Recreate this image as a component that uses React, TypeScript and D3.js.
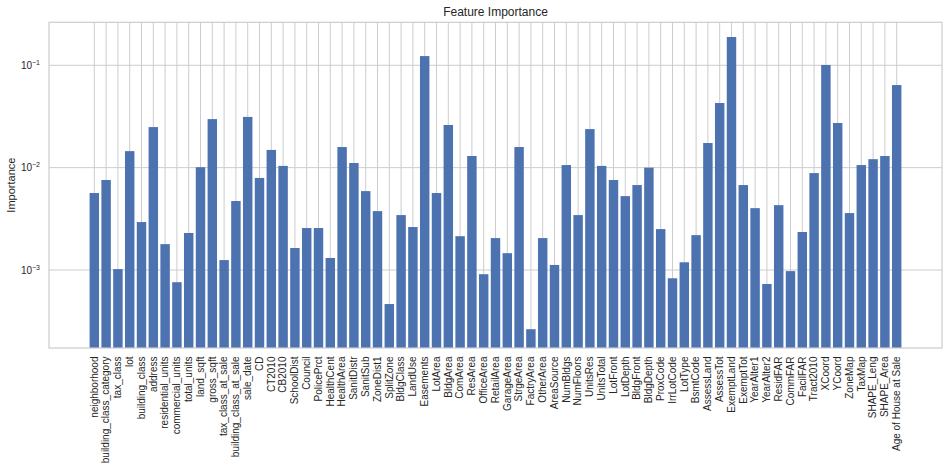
import React from "react";
import * as d3 from "d3";

const features: string[] = [
  "neighborhood", "building_class_category", "tax_class", "lot", "building_class", "address",
  "residential_units", "commercial_units", "total_units", "land_sqft", "gross_sqft",
  "tax_class_at_sale", "building_class_at_sale", "sale_date", "CD", "CT2010", "CB2010",
  "SchoolDist", "Council", "PolicePrct", "HealthCent", "HealthArea", "SanitDistr", "SanitSub",
  "ZoneDist1", "SplitZone", "BldgClass", "LandUse", "Easements", "LotArea", "BldgArea",
  "ComArea", "ResArea", "OfficeArea", "RetailArea", "GarageArea", "StrgeArea", "FactryArea",
  "OtherArea", "AreaSource", "NumBldgs", "NumFloors", "UnitsRes", "UnitsTotal", "LotFront",
  "LotDepth", "BldgFront", "BldgDepth", "ProxCode", "IrrLotCode", "LotType", "BsmtCode",
  "AssessLand", "AssessTot", "ExemptLand", "ExemptTot", "YearAlter1", "YearAlter2", "ResidFAR",
  "CommFAR", "FacilFAR", "Tract2010", "XCoord", "YCoord", "ZoneMap", "TaxMap", "SHAPE_Leng",
  "SHAPE_Area", "Age of House at Sale",
];

const importance: number[] = [
  5.65e-3, 7.57e-3, 1.02e-3, 1.45e-2, 2.94e-3, 2.49e-2,
  1.79e-3, 7.6e-4, 2.3e-3, 1.01e-2, 2.98e-2,
  1.25e-3, 4.72e-3, 3.13e-2, 7.93e-3, 1.49e-2, 1.04e-2,
  1.64e-3, 2.57e-3, 2.57e-3, 1.31e-3, 1.59e-2, 1.11e-2, 5.9e-3,
  3.76e-3, 4.65e-4, 3.44e-3, 2.63e-3, 0.123, 5.65e-3, 2.61e-2,
  2.14e-3, 1.3e-2, 9.1e-4, 2.05e-3, 1.46e-3, 1.59e-2, 2.64e-4,
  2.05e-3, 1.12e-3, 1.06e-2, 3.44e-3, 2.38e-2, 1.04e-2, 7.57e-3,
  5.27e-3, 6.76e-3, 1.0e-2, 2.51e-3, 8.3e-4, 1.19e-3, 2.19e-3,
  1.74e-2, 4.28e-2, 0.189, 6.76e-3, 4.02e-3, 7.3e-4, 4.3e-3,
  9.75e-4, 2.35e-3, 8.85e-3, 0.1007, 2.73e-2, 3.6e-3, 1.06e-2, 1.21e-2,
  1.3e-2, 6.41e-2,
];

const yTickExps: number[] = [-3, -2, -1];

const W = 949;
const H = 469;
const left = 49;
const right = 942;
const top = 22.3;
const bottom = 348;
const textColor = "#262626";
const gridColor = "#cccccc";
const barColor = "#4c72b0";
const font = "'Liberation Sans', Arial, sans-serif";

export default function App() {
  const n = features.length;
  const margin = 0.05 * (n - 1 + 0.8);
  const x = d3
    .scaleLinear()
    .domain([-0.4 - margin, n - 1 + 0.4 + margin])
    .range([left, right]);
  const bw = x(0.8) - x(0);
  const y = d3
    .scaleLog()
    .domain([Math.pow(10, -3.762), Math.pow(10, -0.58)])
    .range([bottom, top]);

  return (
    <div style={{ position: "absolute", left: 0, top: 0, width: W, height: H, background: "#fff" }}>
      <svg width={W} height={H} style={{ display: "block", fontFamily: font }}>
        <rect x={0} y={0} width={W} height={H} fill="#fff" />
        {yTickExps.map((e) => (
          <line key={"h" + e} x1={left} x2={right} y1={y(Math.pow(10, e))} y2={y(Math.pow(10, e))} stroke={gridColor} strokeWidth={1} />
        ))}
        {features.map((f, i) => (
          <line key={"v" + i} x1={x(i)} x2={x(i)} y1={top} y2={bottom} stroke={gridColor} strokeWidth={1} />
        ))}
        {importance.map((v, i) => (
          <rect key={"b" + i} x={x(i) - bw / 2} y={y(v)} width={bw} height={bottom - y(v)} fill={barColor} />
        ))}
        <rect x={left} y={top} width={right - left} height={bottom - top} fill="none" stroke={gridColor} strokeWidth={1.2} />
        {yTickExps.map((e) => (
          <text key={"yt" + e} x={40} y={y(Math.pow(10, e)) + 3.5} textAnchor="end" fontSize={10} fill={textColor}>
            <tspan>10</tspan>
            <tspan dy={-4} fontSize={7}>{"\u2212" + Math.abs(e)}</tspan>
          </text>
        ))}
        {features.map((f, i) => (
          <text
            key={"xt" + i}
            transform={`translate(${x(i) + 3.3},${bottom + 8.5}) rotate(-90)`}
            textAnchor="end"
            fontSize={10}
            fill={textColor}
          >
            {f}
          </text>
        ))}
        <text transform={`translate(15,${(top + bottom) / 2}) rotate(-90)`} textAnchor="middle" fontSize={11} fill={textColor}>
          Importance
        </text>
        <text x={(left + right) / 2} y={16} textAnchor="middle" fontSize={12} fill={textColor}>
          Feature Importance
        </text>
      </svg>
    </div>
  );
}
